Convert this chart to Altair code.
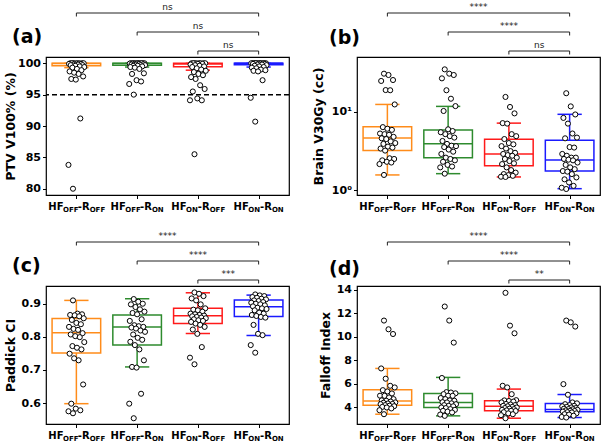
import altair as alt
import pandas as pd

# ---------------- data ----------------
GROUPS = ["HF OFF-R OFF", "HF OFF-R ON", "HF ON-R OFF", "HF ON-R ON"]
HF_SUB = ["OFF", "OFF", "ON", "ON"]
R_SUB = ["OFF", "ON", "OFF", "ON"]
PALETTE = ["#ff8c1a", "#2e8b2e", "#ff1a1a", "#1a1aff"]

BRACKET_FROM = [0, 1, 2]
BRACKET_TO = [3, 3, 3]

# (a) PTV V100% (%)
ptv_offoff = [100.0, 100.0, 100.0, 100.0, 100.0, 100.0, 100.0, 100.0, 99.95, 99.9, 99.9, 99.8, 99.8,
              99.7, 99.7, 99.6, 99.5, 99.4, 99.3, 99.1, 98.9, 98.7, 98.5, 98.3, 97.9, 97.5, 97.4,
              91.2, 83.8, 80.0]
ptv_offon = [100.0, 100.0, 100.0, 100.0, 100.0, 100.0, 100.0, 100.0, 100.0, 100.0, 99.95, 99.9, 99.9,
             99.85, 99.8, 99.8, 99.7, 99.7, 99.6, 99.6, 99.5, 99.4, 99.3, 99.1, 98.4, 98.3, 97.3,
             97.1, 96.7, 95.0]
ptv_onoff = [100.0, 100.0, 100.0, 100.0, 100.0, 100.0, 100.0, 100.0, 99.9, 99.9, 99.8, 99.7, 99.6,
             99.5, 99.4, 99.2, 99.0, 98.8, 98.6, 98.3, 98.1, 97.8, 97.5, 96.5, 95.9, 95.5, 94.4,
             94.1, 94.1, 85.5]
ptv_onon = [100.0, 100.0, 100.0, 100.0, 100.0, 100.0, 100.0, 100.0, 100.0, 100.0, 100.0, 100.0, 99.95,
            99.9, 99.9, 99.8, 99.8, 99.7, 99.6, 99.5, 99.4, 99.3, 99.2, 99.0, 98.9, 98.8, 98.7,
            97.3, 94.5, 90.7]
ptv_q1 = [99.6, 99.7, 99.45, 99.75]
ptv_med = [99.95, 99.95, 99.9, 100.0]
ptv_q3 = [100.0, 100.0, 100.0, 100.0]
ptv_lo = [99.3, 99.4, 98.9, 99.4]
ptv_hi = [100.0, 100.0, 100.0, 100.0]
ptv_sig = ["ns", "ns", "ns"]

# (b) Brain V30Gy (cc)
brain_offoff = [31.0, 29.8, 25.7, 25.0, 19.1, 19.0, 12.5, 6.4, 6.1, 5.9, 5.3, 5.2, 5.1, 4.8, 4.6,
                4.5, 4.2, 4.0, 3.9, 3.6, 3.5, 3.4, 3.2, 2.55, 2.5, 2.4, 2.3, 2.25, 2.15, 1.56]
brain_offon = [35.2, 31.0, 29.8, 27.0, 19.0, 14.8, 11.9, 10.3, 6.0, 5.7, 5.5, 5.2, 4.9, 4.7, 4.25,
               3.9, 3.7, 3.65, 3.55, 3.3, 3.1, 2.9, 2.6, 2.5, 2.4, 2.3, 2.1, 2.0, 1.95, 1.62]
brain_onoff = [15.6, 11.6, 9.6, 7.2, 7.1, 5.2, 4.9, 4.5, 4.0, 3.85, 3.65, 3.4, 3.15, 3.0, 2.9,
               2.8, 2.75, 2.6, 2.5, 2.35, 2.2, 2.15, 1.95, 1.8, 1.67, 1.6, 1.55, 1.52, 1.48, 1.47]
brain_onon = [17.4, 11.8, 9.3, 8.4, 7.1, 5.3, 4.7, 4.6, 3.55, 3.5, 2.9, 2.75, 2.6, 2.6, 2.5, 2.45,
              2.4, 2.25, 2.1, 1.95, 1.85, 1.75, 1.72, 1.6, 1.45, 1.37, 1.25, 1.13, 1.07, 1.03]
brain_q1 = [3.22, 2.6, 2.05, 1.75]
brain_med = [4.64, 3.92, 2.89, 2.42]
brain_q3 = [6.49, 5.87, 4.46, 4.33]
brain_lo = [1.56, 1.62, 1.47, 1.04]
brain_hi = [12.5, 11.8, 7.2, 9.34]
brain_sig = ["****", "****", "ns"]

# (c) Paddick CI
paddick_offoff = [0.910, 0.870, 0.868, 0.866, 0.865, 0.862, 0.856, 0.851, 0.842, 0.838, 0.830, 0.824,
                  0.821, 0.811, 0.807, 0.802, 0.799, 0.784, 0.772, 0.767, 0.762, 0.749, 0.735, 0.729,
                  0.656, 0.598, 0.583, 0.578, 0.575, 0.569]
paddick_offon = [0.914, 0.906, 0.900, 0.898, 0.890, 0.883, 0.876, 0.872, 0.868, 0.853, 0.848, 0.835,
                 0.832, 0.830, 0.828, 0.825, 0.819, 0.815, 0.807, 0.797, 0.791, 0.785, 0.775, 0.762,
                 0.729, 0.709, 0.707, 0.628, 0.598, 0.554]
paddick_onoff = [0.934, 0.930, 0.923, 0.916, 0.910, 0.898, 0.886, 0.882, 0.880, 0.876, 0.870, 0.868,
                 0.866, 0.864, 0.862, 0.860, 0.858, 0.856, 0.853, 0.850, 0.848, 0.845, 0.840, 0.836,
                 0.830, 0.822, 0.809, 0.769, 0.737, 0.717]
paddick_onon = [0.928, 0.925, 0.923, 0.920, 0.918, 0.915, 0.913, 0.910, 0.908, 0.905, 0.903, 0.900,
                0.898, 0.895, 0.892, 0.888, 0.886, 0.884, 0.880, 0.873, 0.870, 0.866, 0.863, 0.860,
                0.858, 0.836, 0.809, 0.805, 0.775, 0.752]
paddick_q1 = [0.751, 0.775, 0.840, 0.861]
paddick_med = [0.812, 0.830, 0.864, 0.891]
paddick_q3 = [0.855, 0.866, 0.886, 0.911]
paddick_lo = [0.598, 0.709, 0.810, 0.804]
paddick_hi = [0.910, 0.915, 0.933, 0.926]
paddick_sig = ["****", "****", "***"]

# (d) Falloff Index
falloff_offoff = [11.37, 10.63, 10.23, 7.31, 6.44, 5.84, 5.70, 5.47, 5.36, 5.19, 5.0, 4.99, 4.85,
                  4.71, 4.6, 4.57, 4.5, 4.43, 4.4, 4.34, 4.3, 4.28, 4.20, 4.15, 4.11, 4.05, 4.00,
                  3.92, 3.77, 3.43]
falloff_offon = [12.56, 11.37, 9.5, 6.5, 5.3, 5.27, 5.2, 5.13, 5.0, 4.99, 4.8, 4.71, 4.6, 4.57,
                 4.45, 4.43, 4.35, 4.28, 4.2, 4.14, 4.1, 4.00, 3.95, 3.86, 3.8, 3.72, 3.65, 3.58,
                 3.4, 3.29]
falloff_onoff = [13.72, 10.94, 10.29, 5.84, 5.70, 5.13, 4.62, 4.6, 4.55, 4.5, 4.43, 4.3, 4.25, 4.2,
                 4.14, 4.1, 4.05, 4.00, 3.95, 3.9, 3.86, 3.8, 3.75, 3.72, 3.7, 3.6, 3.5, 3.43, 3.35,
                 3.09]
falloff_onon = [11.37, 11.22, 10.86, 5.98, 5.08, 4.43, 4.35, 4.28, 4.2, 4.14, 4.1, 4.05, 4.00, 3.95,
                3.9, 3.86, 3.85, 3.8, 3.75, 3.72, 3.7, 3.65, 3.6, 3.58, 3.5, 3.43, 3.4, 3.3, 3.2,
                3.15]
falloff_q1 = [4.2, 4.0, 3.72, 3.63]
falloff_med = [4.54, 4.43, 4.11, 3.83]
falloff_q3 = [5.5, 5.19, 4.57, 4.34]
falloff_lo = [3.43, 3.29, 3.09, 3.15]
falloff_hi = [7.31, 6.55, 5.56, 5.1]
falloff_sig = ["****", "****", "**"]

# ---------------- layout / style ----------------
PW, PH = 243, 138
STEP = PW / 4.0
FONT = "DejaVu Sans"
MAIN_FS, SUB_FS = 10, 7
CHAR_W = {"H": 0.837, "F": 0.632, "O": 0.850, "N": 0.837, "R": 0.770, "-": 0.415}


def text_w(s, fs):
    return sum(CHAR_W[c] for c in s) * fs


# label pieces (HF, sub, -R, sub) placed left to right around each category
lab_rows = []
for i in range(4):
    pieces = [("HF", "main"), (HF_SUB[i], "sub"), ("-R", "main"), (R_SUB[i], "sub")]
    widths = [text_w(t, MAIN_FS if k == "main" else SUB_FS) for t, k in pieces]
    start = -sum(widths) / 2
    for (t, k), w in zip(pieces, widths):
        lab_rows.append({"idx": i, "t": t, "kind": k, "off": start})
        start += w
lab_df = pd.DataFrame(lab_rows)

brk_df = pd.DataFrame({"b_from": BRACKET_FROM, "b_to": BRACKET_TO, "level": [0, 1, 2]})
BRACKET_Y = [-44, -25, -6]


def xenc(field):
    return alt.X(f"{field}:Q",
                 scale=alt.Scale(domain=[-0.5, 3.5], nice=False, zero=False),
                 axis=alt.Axis(values=[0, 1, 2, 3], labels=False, ticks=True, domain=False,
                               grid=False, title=None, tickSize=3.5, tickColor="black",
                               tickWidth=1))


def build_panel(series, q1, med, q3, lo, hi, sig, ytitle, ydomain, ytype, yticks,
                title_x, label, label_x, label_y, label_expr=None, dashed=None):
    def yenc(field):
        ax = dict(values=yticks, title=ytitle, titleX=title_x, titleY=PH / 2,
                  titleAngle=270, titleAlign="center", titleBaseline="middle",
                  grid=False, domain=False, tickSize=3.5, tickColor="black",
                  labelPadding=2)
        if label_expr:
            ax["labelExpr"] = label_expr
        return alt.Y(f"{field}:Q",
                     scale=alt.Scale(type=ytype, domain=ydomain, nice=False, zero=False),
                     axis=alt.Axis(**ax))

    rows = []
    for i, vals in enumerate(series):
        for v in vals:
            rows.append({"grp": GROUPS[i], "idx": i, "v": v})
    pts = pd.DataFrame(rows)
    box = pd.DataFrame({"grp": GROUPS, "idx": [0, 1, 2, 3], "q1": q1, "med": med,
                        "q3": q3, "lo": lo, "hi": hi})
    col = alt.Stroke("grp:N", scale=alt.Scale(domain=GROUPS, range=PALETTE), legend=None)

    bbase = alt.Chart(box).transform_calculate(
        bx1="datum.idx - 0.4", bx2="datum.idx + 0.4",
        cx1="datum.idx - 0.2", cx2="datum.idx + 0.2")

    layers = [
        bbase.mark_rule(strokeWidth=1.5).encode(x=xenc("idx"), y=yenc("lo"), y2="q1:Q", stroke=col),
        bbase.mark_rule(strokeWidth=1.5).encode(x=xenc("idx"), y=yenc("q3"), y2="hi:Q", stroke=col),
        bbase.mark_rule(strokeWidth=1.5).encode(x=xenc("cx1"), x2="cx2:Q", y=yenc("lo"), stroke=col),
        bbase.mark_rule(strokeWidth=1.5).encode(x=xenc("cx1"), x2="cx2:Q", y=yenc("hi"), stroke=col),
        bbase.mark_rect(fillOpacity=0, strokeWidth=1.5).encode(
            x=xenc("bx1"), x2="bx2:Q", y=yenc("q1"), y2="q3:Q", stroke=col),
        bbase.mark_rule(strokeWidth=1.5).encode(x=xenc("bx1"), x2="bx2:Q", y=yenc("med"), stroke=col),
    ]
    if dashed is not None:
        layers.append(alt.Chart(pd.DataFrame({"d": [dashed]})).mark_rule(
            color="black", strokeWidth=1.5, strokeDash=[5, 3]).encode(y=yenc("d")))

    layers.append(
        alt.Chart(pts)
        .transform_window(rn="row_number()", groupby=["grp"])
        .transform_calculate(jx="datum.idx + ((((datum.rn * 37) % 29) / 28) - 0.5) * 0.26")
        .mark_point(filled=True, fill="white", stroke="black", strokeWidth=1, size=26, opacity=1)
        .encode(x=xenc("jx"), y=yenc("v"))
    )

    # significance brackets
    bk = alt.Chart(brk_df.assign(sig=sig)).transform_calculate(mid="(datum.b_from + datum.b_to) / 2")
    for k, ly in enumerate(BRACKET_Y):
        f = f"datum.level == {k}"
        layers += [
            bk.transform_filter(f).mark_rule(color="#222", strokeWidth=1).encode(
                x=xenc("b_from"), x2="b_to:Q", y=alt.value(ly)),
            bk.transform_filter(f).mark_rule(color="#222", strokeWidth=1).encode(
                x=xenc("b_from"), y=alt.value(ly), y2=alt.value(ly + 3.5)),
            bk.transform_filter(f).mark_rule(color="#222", strokeWidth=1).encode(
                x=xenc("b_to"), y=alt.value(ly), y2=alt.value(ly + 3.5)),
            bk.transform_filter(f).mark_text(fontSize=9, baseline="alphabetic", color="#222").encode(
                x=xenc("mid"), y=alt.value(ly - 3.5), text="sig:N"),
        ]

    # category labels with subscripts
    lbase = alt.Chart(lab_df).transform_calculate(xx=f"datum.idx + datum.off / {STEP}")
    layers += [
        lbase.transform_filter("datum.kind == 'main'").mark_text(
            align="left", baseline="alphabetic", fontSize=MAIN_FS, fontWeight="bold", color="black"
        ).encode(x=xenc("xx"), y=alt.value(PH + 15), text="t:N"),
        lbase.transform_filter("datum.kind == 'sub'").mark_text(
            align="left", baseline="alphabetic", fontSize=SUB_FS, fontWeight="bold", color="black"
        ).encode(x=xenc("xx"), y=alt.value(PH + 16.5), text="t:N"),
    ]

    # panel letter
    layers.append(alt.Chart(pd.DataFrame({"t": [label]})).mark_text(
        align="left", baseline="alphabetic", fontSize=19, fontWeight="bold", color="black"
    ).encode(x=alt.value(label_x), y=alt.value(label_y), text="t:N"))

    return alt.layer(*layers).properties(width=PW, height=PH)


pa = build_panel([ptv_offoff, ptv_offon, ptv_onoff, ptv_onon], ptv_q1, ptv_med, ptv_q3, ptv_lo,
                 ptv_hi, ptv_sig, "PTV V100% (%)", [79, 101], "linear", [80, 85, 90, 95, 100],
                 -35.5, "(a)", -34, -14, dashed=95)
pb = build_panel([brain_offoff, brain_offon, brain_onoff, brain_onon], brain_q1, brain_med,
                 brain_q3, brain_lo, brain_hi, brain_sig, "Brain V30Gy (cc)", [0.863, 50.7], "log",
                 [1, 10], -38.5, "(b)", -28, -13,
                 label_expr="datum.value == 1 ? '10\u2070' : (datum.value == 10 ? '10\u00b9' : '')")
pc = build_panel([paddick_offoff, paddick_offon, paddick_onoff, paddick_onon], paddick_q1,
                 paddick_med, paddick_q3, paddick_lo, paddick_hi, paddick_sig, "Paddick CI",
                 [0.5366, 0.9535], "linear", [0.6, 0.7, 0.8, 0.9], -35.5, "(c)", -34, -14)
pd_ = build_panel([falloff_offoff, falloff_offon, falloff_onoff, falloff_onon], falloff_q1,
                  falloff_med, falloff_q3, falloff_lo, falloff_hi, falloff_sig, "Falloff Index",
                  [2.6, 14.3], "linear", [4, 6, 8, 10, 12, 14], -31.5, "(d)", -28, -11)

chart = (
    alt.concat(pa, pb, pc, pd_, columns=2, spacing={"row": 91, "column": 68}, bounds="flush")
    .properties(padding={"left": 3, "top": 1, "right": 0, "bottom": 0}, background="white")
    .configure_view(stroke="black", strokeWidth=1.2)
    .configure_axis(labelFont=FONT, labelFontSize=11, labelFontWeight="bold", labelColor="black",
                    titleFont=FONT, titleFontSize=12.5, titleFontWeight="bold", titleColor="black",
                    domain=False, grid=False)
    .configure_text(font=FONT)
)

chart.save("out.html", embed_options={"renderer": "svg", "actions": False})
